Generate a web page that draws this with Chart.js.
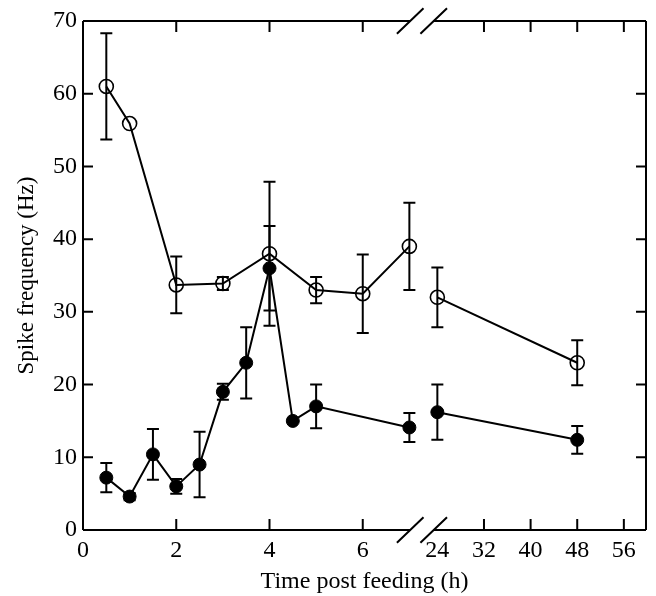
<!DOCTYPE html>
<html>
<head>
<meta charset="utf-8">
<script src="https://cdn.jsdelivr.net/npm/chart.js@4.4.0/dist/chart.umd.min.js"></script>
<style>
  html, body { margin: 0; padding: 0; background: #fff; }
</style>
</head>
<body>
<canvas id="chart" width="656" height="596"></canvas>
<script>
// Datos (horas tras alimentación, frecuencia en Hz)
const openHours = [0.5, 1, 2, 3, 4, 5, 6, 7, 24, 48];
const openMean = [61, 55.9, 33.7, 33.9, 38, 33, 32.5, 39, 32, 23];
const openErr = [7.3, 0.4, 3.9, 0.9, 9.9, 1.8, 5.4, 6, 4.1, 3.1];

const filledHours = [0.5, 1, 1.5, 2, 2.5, 3, 3.5, 4, 4.5, 5, 7, 24, 48];
const filledMean = [7.2, 4.6, 10.4, 6, 9, 19, 23, 36, 15, 17, 14.1, 16.2, 12.4];
const filledErr = [2, 0.5, 3.5, 1, 4.5, 1.1, 4.9, 5.8, 0.3, 3, 2, 3.8, 1.9];

const xTickHours = [0, 2, 4, 6, 24, 32, 40, 48, 56];
const yTicks = [0, 10, 20, 30, 40, 50, 60, 70];

// eje roto: 0-7 h lineal, luego 24 h en adelante a 8 h por unidad
const BREAK_AT = 7.6;
const LATE_SCALE = 8;
function toAxis(h) {
  return h < 24 ? h : BREAK_AT + (h - 24) / LATE_SCALE;
}

const SERIF = '"Liberation Serif", "Times New Roman", serif';
const TICK_FONT = { family: SERIF, size: 24, lineHeight: 1.2 };
const TITLE_FONT = { family: SERIF, size: 24, lineHeight: 1.2 };

function makePoints(hours, mean) {
  return hours.map((h, i) => ({ x: toAxis(h), y: mean[i] }));
}

// no dibujar el tramo que cruza el corte
function segmentColor(hours) {
  return ctx => (hours[ctx.p0DataIndex] < 24 && hours[ctx.p1DataIndex] >= 24) ? 'rgba(0,0,0,0)' : '#000';
}

const errorBars = {
  id: 'errorBars',
  beforeDatasetsDraw(chart) {
    const ctx = chart.ctx;
    const x = chart.scales.x, y = chart.scales.y;
    const sets = [[openHours, openMean, openErr], [filledHours, filledMean, filledErr]];
    ctx.save();
    ctx.strokeStyle = '#000';
    ctx.lineWidth = 2;
    sets.forEach(([hours, mean, err]) => {
      hours.forEach((h, i) => {
        if (err[i] < 0.45) return;
        const px = x.getPixelForValue(toAxis(h));
        const top = y.getPixelForValue(mean[i] + err[i]);
        const bot = y.getPixelForValue(mean[i] - err[i]);
        ctx.beginPath();
        ctx.moveTo(px, top); ctx.lineTo(px, bot);
        ctx.moveTo(px - 6, top); ctx.lineTo(px + 6, top);
        ctx.moveTo(px - 6, bot); ctx.lineTo(px + 6, bot);
        ctx.stroke();
      });
    });
    ctx.restore();
  }
};

const frame = {
  id: 'frame',
  afterDraw(chart) {
    const ctx = chart.ctx;
    const { left, right, top, bottom } = chart.chartArea;
    const x = chart.scales.x, y = chart.scales.y;
    const mid = x.getPixelForValue(BREAK_AT - 0.33);
    const gap = 11.75;
    ctx.save();
    ctx.strokeStyle = '#000';
    ctx.lineWidth = 2;
    ctx.beginPath();
    ctx.moveTo(left, top); ctx.lineTo(left, bottom);
    ctx.moveTo(right, top); ctx.lineTo(right, bottom);
    [top, bottom].forEach(yy => {
      ctx.moveTo(left, yy); ctx.lineTo(mid - gap, yy);
      ctx.moveTo(mid + gap, yy); ctx.lineTo(right, yy);
    });
    ctx.stroke();

    // marcas de corte
    ctx.beginPath();
    [top, bottom].forEach(yy => {
      [mid - gap, mid + gap].forEach(cx => {
        ctx.moveTo(cx - 13.3, yy + 12.8);
        ctx.lineTo(cx + 13.3, yy - 12.8);
      });
    });
    ctx.stroke();

    // ticks hacia dentro
    ctx.beginPath();
    xTickHours.forEach(h => {
      if (h === 0 || h === 24) return;
      const px = x.getPixelForValue(toAxis(h));
      ctx.moveTo(px, bottom); ctx.lineTo(px, bottom - 11);
      ctx.moveTo(px, top); ctx.lineTo(px, top + 11);
    });
    yTicks.forEach(v => {
      if (v === 0 || v === 70) return;
      const py = y.getPixelForValue(v);
      ctx.moveTo(left, py); ctx.lineTo(left + 10, py);
      ctx.moveTo(right, py); ctx.lineTo(right - 10, py);
    });
    ctx.stroke();
    ctx.restore();
  }
};

function createChart() {
  const ctx = document.getElementById('chart').getContext('2d');
  new Chart(ctx, {
    type: 'scatter',
    data: {
      datasets: [{
        data: makePoints(openHours, openMean),
        showLine: true,
        borderColor: '#000',
        borderWidth: 2,
        pointRadius: 7,
        pointBorderWidth: 1.6,
        pointBackgroundColor: 'rgba(0,0,0,0)',
        pointBorderColor: '#000',
        segment: { borderColor: segmentColor(openHours) }
      }, {
        data: makePoints(filledHours, filledMean),
        showLine: true,
        borderColor: '#000',
        borderWidth: 2,
        pointRadius: 6.5,
        pointBorderWidth: 1,
        pointBackgroundColor: '#000',
        pointBorderColor: '#000',
        segment: { borderColor: segmentColor(filledHours) }
      }]
    },
    options: {
      responsive: false,
      animation: false,
      devicePixelRatio: 1,
      layout: { padding: { top: 21, right: 10, left: 0, bottom: 0 } },
      plugins: { legend: { display: false }, tooltip: { enabled: false } },
      scales: {
        x: {
          type: 'linear',
          min: 0,
          max: toAxis(59.8),
          grid: { display: false, drawTicks: false },
          border: { display: false },
          afterBuildTicks: s => { s.ticks = xTickHours.map(h => ({ value: toAxis(h) })); },
          afterFit: s => { s.height = 66; },
          ticks: {
            autoSkip: false,
            maxRotation: 0,
            padding: 6,
            color: '#000',
            font: TICK_FONT,
            callback: (v, i) => xTickHours[i]
          },
          title: {
            display: true,
            text: 'Time post feeding (h)',
            color: '#000',
            font: TITLE_FONT,
            padding: { top: 0, bottom: 0 }
          }
        },
        y: {
          min: 0,
          max: 70,
          grid: { display: false, drawTicks: false },
          border: { display: false },
          afterBuildTicks: s => { s.ticks = yTicks.map(v => ({ value: v })); },
          afterFit: s => { s.width = 83; },
          ticks: { padding: 6, color: '#000', font: TICK_FONT },
          title: {
            display: true,
            text: 'Spike frequency (Hz)',
            color: '#000',
            font: { family: SERIF, size: 23, lineHeight: 1.2 },
            padding: { top: 13, bottom: 0 }
          }
        }
      }
    },
    plugins: [errorBars, frame]
  });
}

document.addEventListener('DOMContentLoaded', createChart);
</script>
</body>
</html>
